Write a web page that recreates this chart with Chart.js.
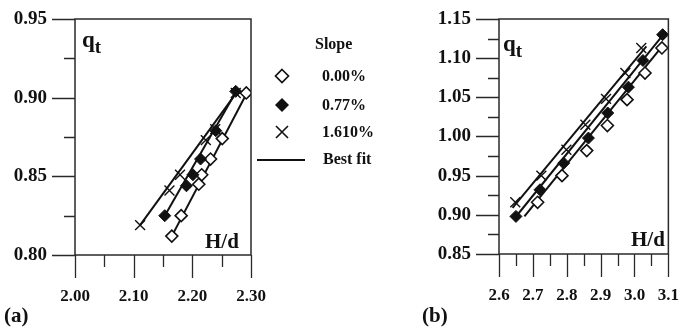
<!DOCTYPE html>
<html>
<head>
<meta charset="utf-8">
<script src="https://cdn.jsdelivr.net/npm/chart.js@4"></script>
<style>
  body { margin: 0; width: 687px; height: 329px; background: #fff; position: relative; overflow: hidden;
         font-family: "Liberation Serif", "Times New Roman", serif; font-weight: bold; color: #111; }
  canvas { position: absolute; top: 0; }
  #chartA { left: 0; }
  #chartB { left: 420px; }
  .txt { position: absolute; white-space: nowrap; line-height: 1; }
  .qt { font-size: 23px; }
  .qt sub { font-size: 19px; vertical-align: -6px; }
  .hd { font-size: 21px; }
  .panel { font-size: 21px; }
  .leg { font-size: 16px; }
  .mk { position: absolute; }
</style>
</head>
<body>
<canvas id="chartA" width="280" height="329"></canvas>
<canvas id="chartB" width="267" height="329"></canvas>

<div class="txt qt" style="left:82px; top:28px;">q<sub>t</sub></div>
<div class="txt hd" style="left:205px; top:231px;">H/d</div>
<div class="txt qt" style="left:503px; top:32px;">q<sub>t</sub></div>
<div class="txt hd" style="left:631px; top:229px;">H/d</div>
<div class="txt panel" style="left:4px; top:305px;">(a)</div>
<div class="txt panel" style="left:422px; top:305px;">(b)</div>

<div class="txt leg" style="left:315px; top:36px;">Slope</div>
<svg class="mk" style="left:274px; top:68px;" width="16" height="16"><polygon points="8,1.5 14.5,8 8,14.5 1.5,8" fill="#fff" stroke="#111" stroke-width="1.7"/></svg>
<div class="txt leg" style="left:322px; top:68px;">0.00%</div>
<svg class="mk" style="left:274px; top:97px;" width="16" height="16"><polygon points="8,1 15,8 8,15 1,8" fill="#111"/></svg>
<div class="txt leg" style="left:322px; top:97px;">0.77%</div>
<svg class="mk" style="left:274px; top:124px;" width="16" height="16"><path d="M2,2 L14,14 M14,2 L2,14" stroke="#111" stroke-width="1.6"/></svg>
<div class="txt leg" style="left:322px; top:124px;">1.610%</div>
<div class="mk" style="left:257px; top:159px; width:48px; border-top:2px solid #111;"></div>
<div class="txt leg" style="left:323px; top:151px;">Best fit</div>

<script>
// panel (a)
const aXTicks = ["2.00", "2.10", "2.20", "2.30"];
const aYTicks = ["0.80", "0.85", "0.90", "0.95"];
const aFlatX = [2.165, 2.181, 2.211, 2.216, 2.231, 2.251, 2.292];
const aFlatY = [0.812, 0.825, 0.845, 0.851, 0.861, 0.874, 0.903];
const aMidX = [2.153, 2.190, 2.201, 2.214, 2.240, 2.274];
const aMidY = [0.825, 0.844, 0.851, 0.861, 0.879, 0.904];
const aSteepX = [2.111, 2.161, 2.179, 2.223, 2.239, 2.274];
const aSteepY = [0.819, 0.841, 0.851, 0.873, 0.880, 0.903];
const aFlatFitX = [2.165, 2.293];
const aFlatFitY = [0.812, 0.903];
const aMidFitX = [2.153, 2.275];
const aMidFitY = [0.825, 0.904];
const aSteepFitX = [2.111, 2.275];
const aSteepFitY = [0.819, 0.903];

// panel (b)
const bXTicks = ["2.6", "2.7", "2.8", "2.9", "3.0", "3.1"];
const bYTicks = ["0.85", "0.90", "0.95", "1.00", "1.05", "1.10", "1.15"];
const bFlatX = [2.714, 2.786, 2.859, 2.920, 2.978, 3.031, 3.081];
const bFlatY = [0.916, 0.950, 0.982, 1.014, 1.047, 1.081, 1.113];
const bMidX = [2.650, 2.721, 2.791, 2.864, 2.921, 2.982, 3.025, 3.083];
const bMidY = [0.898, 0.932, 0.966, 0.998, 1.030, 1.063, 1.097, 1.130];
const bSteepX = [2.648, 2.725, 2.799, 2.855, 2.916, 2.973, 3.020];
const bSteepY = [0.916, 0.950, 0.983, 1.015, 1.048, 1.081, 1.113];
const bFlatFitX = [2.675, 3.085];
const bFlatFitY = [0.898, 1.117];
const bMidFitX = [2.645, 3.085];
const bMidFitY = [0.895, 1.130];
const bSteepFitX = [2.640, 3.035];
const bSteepFitY = [0.909, 1.115];

const INK = "#111";
const pts = (xs, ys) => xs.map((x, i) => ({ x: x, y: ys[i] }));

// ticks with a minor tick halfway between labelled ones
function withMinor(labels) {
  const v = labels.map(Number);
  const out = [];
  v.forEach((x, i) => {
    out.push({ value: x, big: true });
    if (i < v.length - 1) out.push({ value: (x + v[i + 1]) / 2, big: false });
  });
  return out;
}

const frameTicks = {
  id: "frameTicks",
  afterDraw(chart) {
    const { ctx, chartArea: a, scales } = chart;
    ctx.save();
    ctx.strokeStyle = "#2a2a2a";
    ctx.lineWidth = 1.5;
    ctx.strokeRect(a.left, a.top, a.right - a.left, a.bottom - a.top);
    ctx.lineWidth = 1.3;
    ctx.beginPath();
    scales.x.ticks.forEach((t) => {
      const px = Math.round(scales.x.getPixelForValue(t.value)) + 0.5;
      ctx.moveTo(px, a.bottom);
      ctx.lineTo(px, a.bottom + (t.big ? 23 : 12));
    });
    scales.y.ticks.forEach((t) => {
      const py = Math.round(scales.y.getPixelForValue(t.value)) + 0.5;
      ctx.moveTo(a.left, py);
      ctx.lineTo(a.left - (t.big ? 23 : 11), py);
    });
    ctx.stroke();
    ctx.restore();
  },
};

function makeChart(id, o) {
  const marker = (data, style, fill, r, bw) => ({
    type: "scatter", data: data, showLine: false, pointStyle: style, pointRadius: r,
    pointBackgroundColor: fill, pointBorderColor: INK, pointBorderWidth: bw,
  });
  const fit = (data) => ({
    type: "line", data: data, showLine: true, pointRadius: 0, borderColor: INK, borderWidth: 2,
  });
  const axis = (labels, min, max, size, isX) => ({
    type: "linear", min: min, max: max,
    afterBuildTicks: (s) => { s.ticks = withMinor(labels); },
    afterFit: (s) => { if (isX) s.height = size; else s.width = size; },
    ticks: {
      autoSkip: false, maxRotation: 0, padding: isX ? 8 : 5, color: INK,
      font: { family: "'Liberation Serif', serif", weight: "bold", size: isX ? 17 : 19 },
      callback: (v, i, ticks) => (ticks[i].big ? labels[labels.map(Number).indexOf(v)] : ""),
    },
    grid: { drawOnChartArea: false, drawTicks: true, tickLength: 23, color: "rgba(0,0,0,0)" },
    border: { display: false },
  });
  return new Chart(document.getElementById(id), {
    type: "scatter",
    data: {
      datasets: [
        marker(pts(o.steepX, o.steepY), "crossRot", INK, 7, 1.4),
        marker(pts(o.midX, o.midY), "rectRot", INK, 6, 1),
        marker(pts(o.flatX, o.flatY), "rectRot", "#fff", 6, 1.6),
        fit(pts(o.flatFitX, o.flatFitY)),
        fit(pts(o.midFitX, o.midFitY)),
        fit(pts(o.steepFitX, o.steepFitY)),
      ],
    },
    options: {
      responsive: false,
      animation: false,
      layout: { padding: o.pad },
      plugins: { legend: { display: false }, tooltip: { enabled: false } },
      scales: {
        x: axis(o.xTicks, Number(o.xTicks[0]), Number(o.xTicks[o.xTicks.length - 1]), o.xh, true),
        y: axis(o.yTicks, Number(o.yTicks[0]), Number(o.yTicks[o.yTicks.length - 1]), o.yw, false),
      },
    },
    plugins: [frameTicks],
  });
}

makeChart("chartA", {
  xTicks: aXTicks, yTicks: aYTicks,
  flatX: aFlatX, flatY: aFlatY, midX: aMidX, midY: aMidY, steepX: aSteepX, steepY: aSteepY,
  flatFitX: aFlatFitX, flatFitY: aFlatFitY, midFitX: aMidFitX, midFitY: aMidFitY,
  steepFitX: aSteepFitX, steepFitY: aSteepFitY,
  pad: { top: 19, right: 29, left: 0, bottom: 0 }, yw: 75, xh: 74,
});

makeChart("chartB", {
  xTicks: bXTicks, yTicks: bYTicks,
  flatX: bFlatX, flatY: bFlatY, midX: bMidX, midY: bMidY, steepX: bSteepX, steepY: bSteepY,
  flatFitX: bFlatFitX, flatFitY: bFlatFitY, midFitX: bMidFitX, midFitY: bMidFitY,
  steepFitX: bSteepFitX, steepFitY: bSteepFitY,
  pad: { top: 19, right: 11, left: 0, bottom: 0 }, yw: 79, xh: 75,
});
</script>
</body>
</html>
